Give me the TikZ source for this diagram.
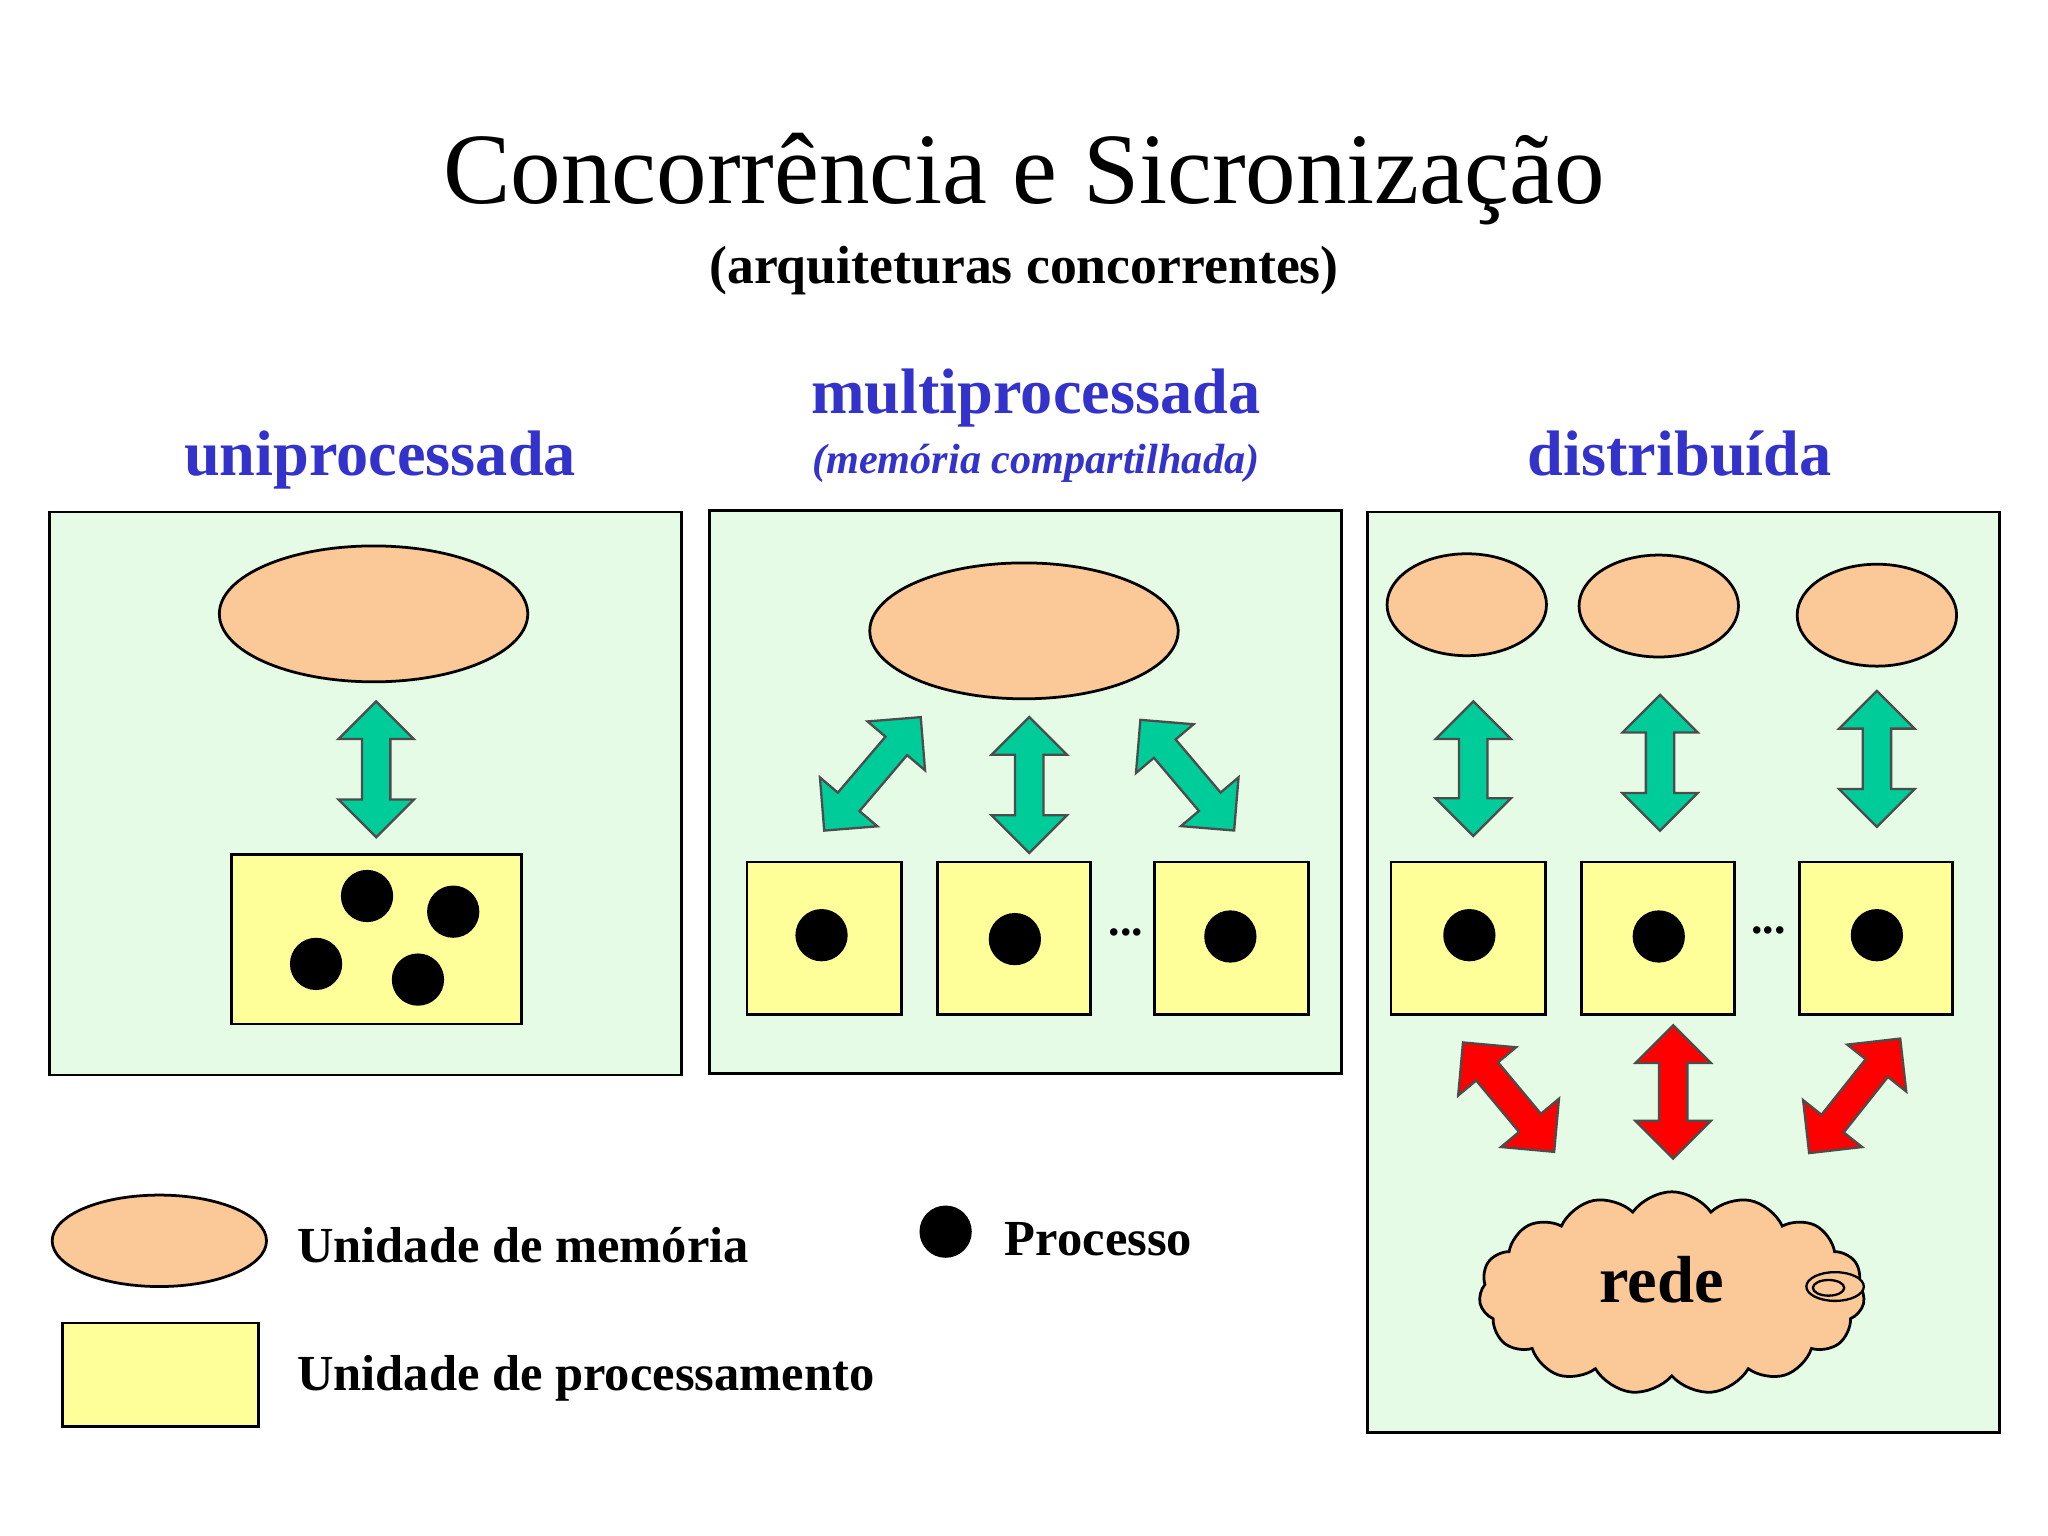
\documentclass[tikz,border=0pt]{standalone}
\usepackage{fontspec}
\setmainfont{Liberation Serif}
\usetikzlibrary{shapes.geometric,shapes.arrows,shapes.symbols}
\definecolor{panel}{RGB}{229,251,229}
\definecolor{mem}{RGB}{251,200,152}
\definecolor{proc}{RGB}{255,255,153}
\definecolor{hblue}{RGB}{51,51,204}
\definecolor{agreen}{RGB}{0,204,153}
\definecolor{ared}{RGB}{255,0,0}
\tikzset{
 panelbox/.style={draw=black,fill=panel,line width=0.6pt},
 memunit/.style={ellipse,draw=black,fill=mem,line width=0.6pt,inner sep=0},
 procbox/.style={draw=black,fill=proc,line width=0.6pt},
 proc/.style={circle,fill=black,minimum size=0.4cm,inner sep=0},
 darrow/.style={double arrow,sloped,draw=black!70,line width=0.5pt,inner sep=0,text height=0.2cm,text depth=0cm,text width=0cm,minimum width=0.56cm,double arrow head extend=0.18cm,double arrow head indent=0cm,minimum height=#1},
 head/.style={text=hblue,font=\bfseries\fontsize{14}{16}\selectfont},
 legend/.style={anchor=west,font=\bfseries\fontsize{11}{13}\selectfont}
}
\begin{document}
\begin{tikzpicture}[x=0.01cm,y=-0.01cm]
\useasboundingbox (0,0) rectangle (1568,1176);
\fill[white] (0,0) rectangle (1568,1176);
\node (title) at (784,137) {\fontsize{22}{26}\selectfont Concorrência e Sicronização};
\node (sub) at (784,207) {\bfseries\fontsize{11.7}{13}\selectfont (arquiteturas concorrentes)};
\node[head] (h1) at (291,352) {uniprocessada};
\node[head] (h2) at (793,305) {multiprocessada};
\node[text=hblue,font=\bfseries\itshape\fontsize{9.2}{11}\selectfont] (h2b) at (793,355) {(memória compartilhada)};
\node[head] (h3) at (1286,347) {distribuída};
% panels
\draw[panelbox] (38,392) rectangle (522,823);
\draw[panelbox] (543,391) rectangle (1027,822);
\draw[panelbox] (1047,392) rectangle (1531,1097);
% panel 1
\node[memunit,minimum width=2.36cm,minimum height=1.04cm] (m1) at (286,470) {};
\draw[procbox] (177,654) rectangle (399,784);
\node[proc] (p1a) at (281,686) {};
\node[proc] (p1b) at (347,698) {};
\node[proc] (p1c) at (242,738) {};
\node[proc] (p1d) at (320,750) {};
\coordinate (a1s) at (288,537); \coordinate (a1e) at (288,641);
\path (a1s) -- node[darrow=1.04cm,fill=agreen] (a1) {} (a1e);
% panel 2
\node[memunit,minimum width=2.36cm,minimum height=1.04cm] (m2) at (784,483) {};
\draw[procbox] (572,660) rectangle (690,777);
\draw[procbox] (718,660) rectangle (835,777);
\draw[procbox] (884,660) rectangle (1002,777);
\node[proc] (p2a) at (629,716) {};
\node[proc] (p2b) at (777,719) {};
\node[proc] (p2c) at (942,717) {};
\node[font=\bfseries] (d2) at (862,714) {...};
\coordinate (b1s) at (631,636); \coordinate (b1e) at (705,549);
\path (b1s) -- node[darrow=1.14cm,fill=agreen] (b1) {} (b1e);
\coordinate (b2s) at (788,549); \coordinate (b2e) at (788,653);
\path (b2s) -- node[darrow=1.04cm,fill=agreen] (b2) {} (b2e);
\coordinate (b3s) at (873,551); \coordinate (b3e) at (945,636);
\path (b3s) -- node[darrow=1.11cm,fill=agreen] (b3) {} (b3e);
% panel 3
\node[memunit,minimum width=1.22cm,minimum height=0.78cm] (m3a) at (1123,463) {};
\node[memunit,minimum width=1.22cm,minimum height=0.78cm] (m3b) at (1270,464) {};
\node[memunit,minimum width=1.22cm,minimum height=0.78cm] (m3c) at (1437,471) {};
\draw[procbox] (1065,660) rectangle (1183,777);
\draw[procbox] (1211,660) rectangle (1328,777);
\draw[procbox] (1378,660) rectangle (1495,777);
\node[proc] (p3a) at (1125,716) {};
\node[proc] (p3b) at (1270,717) {};
\node[proc] (p3c) at (1437,716) {};
\node[font=\bfseries] (d3) at (1354,712) {...};
\coordinate (c1s) at (1128,537); \coordinate (c1e) at (1128,640);
\path (c1s) -- node[darrow=1.03cm,fill=agreen] (c1) {} (c1e);
\coordinate (c2s) at (1271,532); \coordinate (c2e) at (1271,636);
\path (c2s) -- node[darrow=1.04cm,fill=agreen] (c2) {} (c2e);
\coordinate (c3s) at (1437,529); \coordinate (c3e) at (1437,633);
\path (c3s) -- node[darrow=1.04cm,fill=agreen] (c3) {} (c3e);
\coordinate (r1s) at (1120,798); \coordinate (r1e) at (1190,882);
\path (r1s) -- node[darrow=1.09cm,fill=ared] (r1) {} (r1e);
\coordinate (r2s) at (1281,785); \coordinate (r2e) at (1281,887);
\path (r2s) -- node[darrow=1.02cm,fill=ared] (r2) {} (r2e);
\coordinate (r3s) at (1455,795); \coordinate (r3e) at (1385,883);
\path (r3s) -- node[darrow=1.12cm,fill=ared] (r3) {} (r3e);
\node[cloud,cloud puffs=15,cloud puff arc=110,aspect=2.1,draw=black,fill=mem,line width=0.6pt,minimum width=2.95cm,minimum height=1.55cm] (net) at (1280,990) {};
\node[font=\bfseries\fontsize{14.5}{16}\selectfont] (rede) at (1272,980) {rede};
\draw[line width=0.5pt,fill=mem] (1405,985) ellipse (22 and 11);
\draw[line width=0.5pt] (1400,986) ellipse (12 and 6);
% legend
\node[memunit,minimum width=1.64cm,minimum height=0.70cm] (lm) at (122,950) {};
\node[legend] (lmt) at (215,953) {Unidade de memória};
\draw[procbox] (48,1013) rectangle (198,1092);
\node[legend] (lpt) at (215,1055) {Unidade de processamento};
\node[proc] (lp) at (724,943) {};
\node[legend] (lpp) at (757,949) {Processo};
\end{tikzpicture}
\end{document}
